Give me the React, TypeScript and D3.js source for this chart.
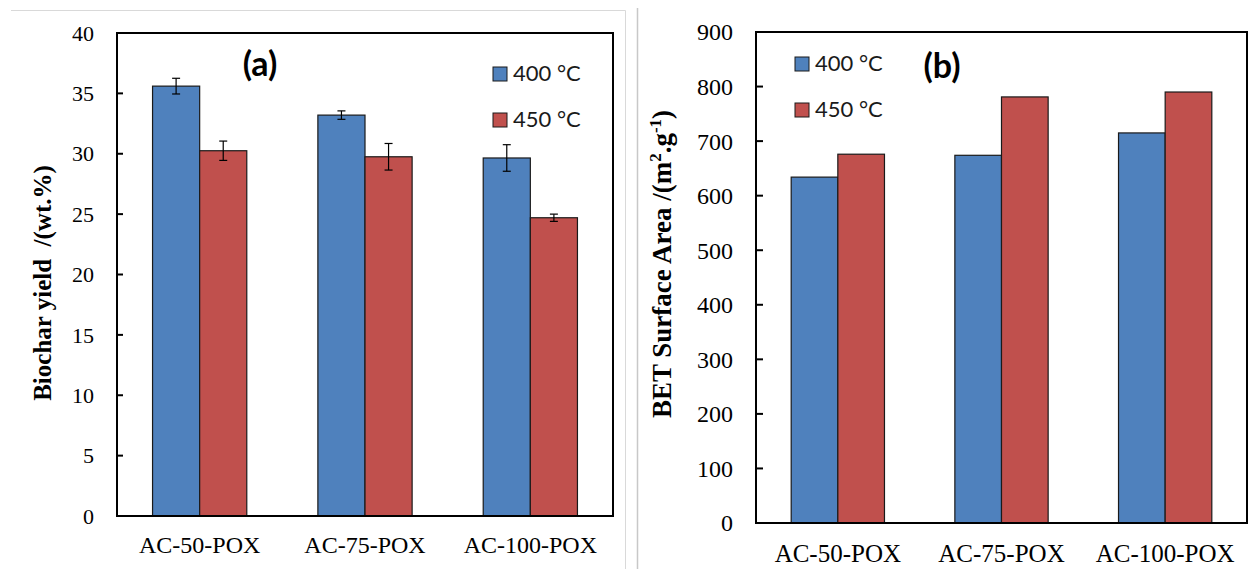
import React from "react";
import * as d3 from "d3";

// Sample categories and series
const categories = ["AC-50-POX", "AC-75-POX", "AC-100-POX"];
const seriesNames = ["400 °C", "450 °C"];
const seriesColors = ["#4F81BD", "#C0504D"];

// (a) Biochar yield, wt.% (mean and error)
const yield400 = [35.6, 33.2, 29.65];
const yield450 = [30.25, 29.75, 24.7];
const yieldErr400 = [0.65, 0.35, 1.1];
const yieldErr450 = [0.8, 1.1, 0.3];
const yieldTicks = [0, 5, 10, 15, 20, 25, 30, 35, 40];

// (b) BET surface area, m2/g
const bet400 = [634, 674, 715];
const bet450 = [676, 781, 790];
const betTicks = [0, 100, 200, 300, 400, 500, 600, 700, 800, 900];

const SERIF = "'Liberation Serif', 'Times New Roman', serif";
const SANS = "Lato, 'Open Sans', sans-serif";

type PanelProps = {
  x0: number;
  x1: number;
  yTop: number;
  yBottom: number;
  ticks: number[];
  values: number[][];
  errors?: number[][];
  tickSize: number;
  tickRight: number;
  tickLen: number;
  xLabelSize: number;
  xLabelBaseline: number;
  legendX: number;
  legendY: number;
  legendGap: number;
  tag: string;
  tagX: number;
  tagY: number;
};

function Panel(p: PanelProps) {
  const y = d3
    .scaleLinear()
    .domain([0, p.ticks[p.ticks.length - 1]])
    .range([p.yBottom, p.yTop]);
  const x = d3
    .scaleBand<string>()
    .domain(categories)
    .range([p.x0, p.x1])
    .paddingInner(0.43)
    .paddingOuter(0.215);
  const xs = d3
    .scaleBand<string>()
    .domain(seriesNames)
    .range([0, x.bandwidth()]);

  return (
    <g>
      {/* bars */}
      {categories.map((c, i) =>
        seriesNames.map((s, j) => {
          const v = p.values[j][i];
          const bx = (x(c) as number) + (xs(s) as number);
          return (
            <rect
              key={c + s}
              x={bx}
              y={y(v)}
              width={xs.bandwidth()}
              height={y(0) - y(v)}
              fill={seriesColors[j]}
              stroke="#1a1a1a"
              strokeWidth={1.2}
            />
          );
        })
      )}
      {/* error bars */}
      {p.errors &&
        categories.map((c, i) =>
          seriesNames.map((s, j) => {
            const v = p.values[j][i];
            const e = p.errors![j][i];
            const cx = (x(c) as number) + (xs(s) as number) + xs.bandwidth() / 2;
            return (
              <g key={"e" + c + s} stroke="#000" strokeWidth={1.2}>
                <line x1={cx} x2={cx} y1={y(v + e)} y2={y(v - e)} />
                <line x1={cx - 4} x2={cx + 4} y1={y(v + e)} y2={y(v + e)} />
                <line x1={cx - 4} x2={cx + 4} y1={y(v - e)} y2={y(v - e)} />
              </g>
            );
          })
        )}
      {/* plot frame */}
      <rect
        x={p.x0}
        y={p.yTop}
        width={p.x1 - p.x0}
        height={p.yBottom - p.yTop}
        fill="none"
        stroke="#000"
        strokeWidth={2}
      />
      {/* y ticks and labels */}
      {p.ticks.map((t) => (
        <g key={"t" + t}>
          <line
            x1={p.x0}
            x2={p.x0 + p.tickLen}
            y1={y(t)}
            y2={y(t)}
            stroke="#000"
            strokeWidth={2}
          />
          <text
            x={p.tickRight}
            y={y(t)}
            dy="0.35em"
            textAnchor="end"
            fontFamily={SERIF}
            fontSize={p.tickSize}
            fill="#000"
          >
            {t}
          </text>
        </g>
      ))}
      {/* category labels */}
      {categories.map((c) => (
        <text
          key={"c" + c}
          x={(x(c) as number) + x.bandwidth() / 2}
          y={p.xLabelBaseline}
          textAnchor="middle"
          fontFamily={SERIF}
          fontSize={p.xLabelSize}
          fill="#000"
        >
          {c}
        </text>
      ))}
      {/* legend */}
      {seriesNames.map((s, j) => (
        <g key={"l" + s}>
          <rect
            x={p.legendX}
            y={p.legendY + j * p.legendGap}
            width={14}
            height={14}
            fill={seriesColors[j]}
            stroke="#1a1a1a"
            strokeWidth={1}
          />
          <text
            x={p.legendX + 20}
            y={p.legendY + j * p.legendGap + 14}
            fontFamily={SANS}
            fontSize={22}
            fill="#1a1a1a"
          >
            {s}
          </text>
        </g>
      ))}
      {/* panel tag */}
      <text
        x={p.tagX}
        y={p.tagY}
        textAnchor="middle"
        fontFamily={SANS}
        fontWeight="bold"
        fontSize={34}
        fill="#000"
      >
        {p.tag}
      </text>
    </g>
  );
}

export default function App() {
  return (
    <svg
      width={1248}
      height={569}
      style={{ position: "absolute", left: 0, top: 0, background: "#fff" }}
    >
      {/* panel separators */}
      <line x1={11} x2={625.5} y1={10.5} y2={10.5} stroke="#d9d9d9" strokeWidth={1} />
      <line x1={625.5} x2={625.5} y1={10.5} y2={569} stroke="#d9d9d9" strokeWidth={1} />
      <line x1={637.5} x2={637.5} y1={8} y2={569} stroke="#c8c8c8" strokeWidth={1.5} />

      <Panel
        x0={117}
        x1={613}
        yTop={33}
        yBottom={516}
        ticks={yieldTicks}
        values={[yield400, yield450]}
        errors={[yieldErr400, yieldErr450]}
        tickSize={22}
        tickRight={94}
        tickLen={6}
        xLabelSize={24}
        xLabelBaseline={553}
        legendX={493}
        legendY={67}
        legendGap={46}
        tag="(a)"
        tagX={260}
        tagY={76}
      />
      <text
        transform="translate(51,283) rotate(-90)"
        textAnchor="middle"
        fontFamily={SERIF}
        fontWeight="bold"
        fontSize={25}
        fill="#000"
        xmlSpace="preserve"
      >
        {"Biochar yield  /(wt.%)"}
      </text>

      <Panel
        x0={756}
        x1={1247}
        yTop={32}
        yBottom={523}
        ticks={betTicks}
        values={[bet400, bet450]}
        tickSize={24}
        tickRight={733}
        tickLen={7}
        xLabelSize={25}
        xLabelBaseline={562}
        legendX={795}
        legendY={57}
        legendGap={46}
        tag="(b)"
        tagX={942}
        tagY={78}
      />
      <text
        transform="translate(671,264) rotate(-90)"
        textAnchor="middle"
        fontFamily={SERIF}
        fontWeight="bold"
        fontSize={27}
        fill="#000"
      >
        BET Surface Area /(m
        <tspan fontSize={17} dy={-10}>2</tspan>
        <tspan dy={10}>.g</tspan>
        <tspan fontSize={17} dy={-10}>-1</tspan>
        <tspan dy={10}>)</tspan>
      </text>
    </svg>
  );
}
